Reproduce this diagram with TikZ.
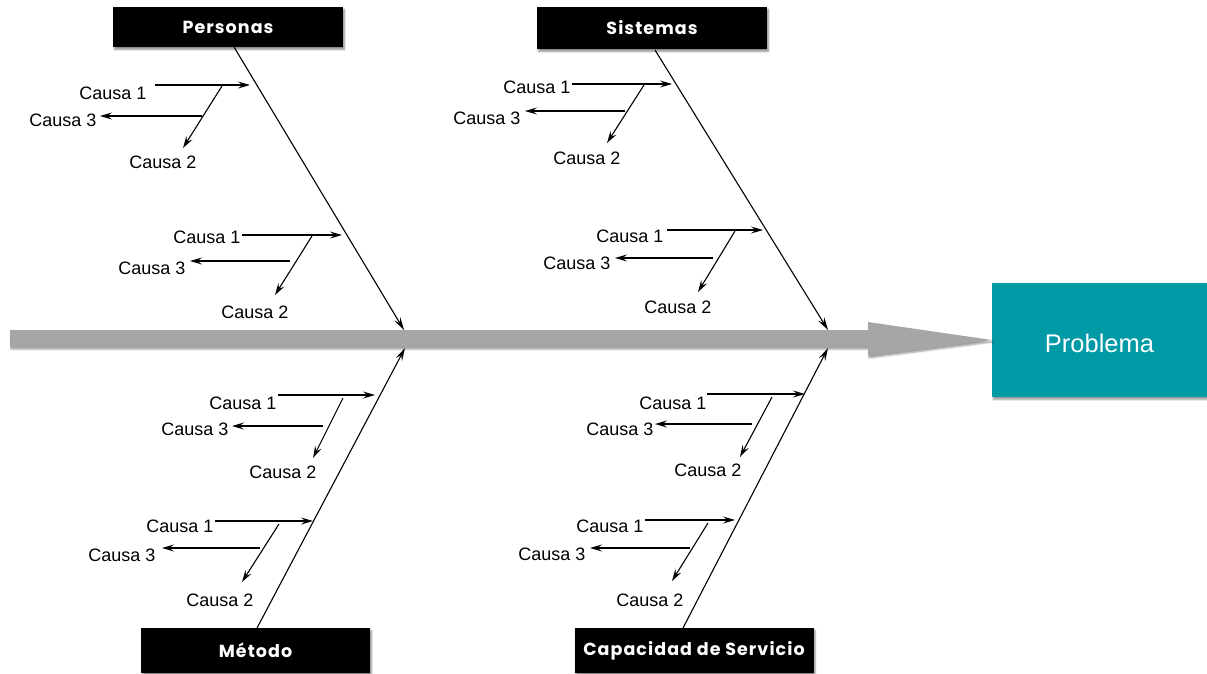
\documentclass[tikz,border=0pt]{standalone}
\usepackage{fontspec}
\usetikzlibrary{arrows.meta,shadows.blur}
\newfontfamily\causafont{Liberation Sans}
\newfontfamily\headfont[LetterSpace=6]{Poppins}
\definecolor{probteal}{RGB}{0,153,166}
\definecolor{spinegray}{RGB}{166,166,166}
\begin{document}
\begin{tikzpicture}[x=1pt,y=-1pt,
  causa/.style={font=\causafont\fontsize{18}{20}\selectfont, inner sep=0pt},
  header/.style={fill=black, text=white, inner sep=0pt,
    font=\headfont\bfseries\fontsize{17.5}{19}\selectfont,
    blur shadow={shadow xshift=1.5pt, shadow yshift=-2.5pt, shadow opacity=45, shadow blur steps=6}},
  sub/.style={line width=1.1pt, -{Stealth[length=12pt,width=7pt,inset=4.5pt]}},
  bone/.style={line width=1.1pt, -{Stealth[length=13pt,width=7pt,inset=5pt]}},
]
\useasboundingbox (0,0) rectangle (1207,673);

% effect box
\node[fill=probteal, text=white, minimum width=215pt, minimum height=114pt, inner sep=0pt,
  text height=24.5pt, text depth=0pt,
  font=\causafont\fontsize{25.5}{28}\selectfont,
  blur shadow={shadow xshift=1.5pt, shadow yshift=-2.5pt, shadow opacity=40, shadow blur steps=6}]
  (prob) at (1099.5,340) {Problema};

% spine with its broad head
\coordinate (sp-tail) at (10,338.5);
\fill[spinegray, blur shadow={shadow xshift=1pt, shadow yshift=-2pt, shadow opacity=40, shadow blur steps=5}]
  (sp-tail) ++(0,-8.5) -- (868,330) -- (868,322) -- (prob.west) -- (868,356) -- (868,347)
  -- (10,347) -- cycle;

% category headers
\node[header, minimum width=230pt, minimum height=40pt] (pers) at (228,27) {Personas};
\node[header, minimum width=230pt, minimum height=42pt] (sist) at (652,28) {Sistemas};
\node[header, minimum width=229pt, minimum height=45pt] (meto) at (255.5,650.5) {Método};
\node[header, minimum width=239pt, minimum height=45pt] (capa) at (694,650.5) {Capacidad de Servicio};

% main bones
\coordinate (pers-t) at (234,47);  \coordinate (pers-h) at (404,330);
\coordinate (sist-t) at (655,50);  \coordinate (sist-h) at (828,330);
\coordinate (meto-t) at (257,628); \coordinate (meto-h) at (405,348);
\coordinate (capa-t) at (683,628); \coordinate (capa-h) at (828,348);
\foreach \b in {pers,sist,meto,capa}
  \draw[bone] (\b-t) -- (\b-h);

% sub-causes on each bone
\foreach \grp/\tOne/\tThree/\tTwo/\pOne/\qOne/\pTwo/\qTwo/\pThree/\qThree in {
  PU/{(113,93)}/{(63,120)}/{(163,162)}/{(155,85)}/{(250,85)}/{(222,86)}/{(183,148)}/{(202,116)}/{(100,116)},
  PL/{(207,237)}/{(152,268)}/{(255,312)}/{(242,235)}/{(342,235)}/{(312,236)}/{(275,295)}/{(290,261)}/{(190,261)},
  SU/{(537,87)}/{(487,118)}/{(587,158)}/{(572,84)}/{(672,84)}/{(644,85)}/{(607,143)}/{(625,111)}/{(525,111)},
  SL/{(630,236)}/{(577,263)}/{(678,307)}/{(667,230)}/{(763,230)}/{(735,231)}/{(698,292)}/{(713,258)}/{(615,258)},
  MU/{(243,403)}/{(195,429)}/{(283,472)}/{(278,395)}/{(375,395)}/{(343,398)}/{(313,458)}/{(323,426)}/{(232,426)},
  ML/{(180,526)}/{(122,555)}/{(220,600)}/{(215,521)}/{(313,521)}/{(279,524)}/{(242,582)}/{(260,548)}/{(162,548)},
  CU/{(673,403)}/{(620,429)}/{(708,470)}/{(707,394)}/{(805,394)}/{(772,397)}/{(740,457)}/{(752,424)}/{(655,424)},
  CL/{(610,526)}/{(552,554)}/{(650,600)}/{(645,520)}/{(735,520)}/{(708,523)}/{(672,581)}/{(690,548)}/{(590,548)}}
{
  \path \tOne node[causa] (\grp-one) {Causa 1}
        \tThree node[causa] (\grp-three) {Causa 3}
        \tTwo node[causa] (\grp-two) {Causa 2}
        \pOne coordinate (\grp-a0) \qOne coordinate (\grp-a1)
        \pTwo coordinate (\grp-b0) \qTwo coordinate (\grp-b1)
        \pThree coordinate (\grp-c0) \qThree coordinate (\grp-c1);
  \draw[sub] (\grp-a0) -- (\grp-a1);
  \draw[sub] (\grp-b0) -- (\grp-b1);
  \draw[sub] (\grp-c0) -- (\grp-c1);
}
\end{tikzpicture}
\end{document}
